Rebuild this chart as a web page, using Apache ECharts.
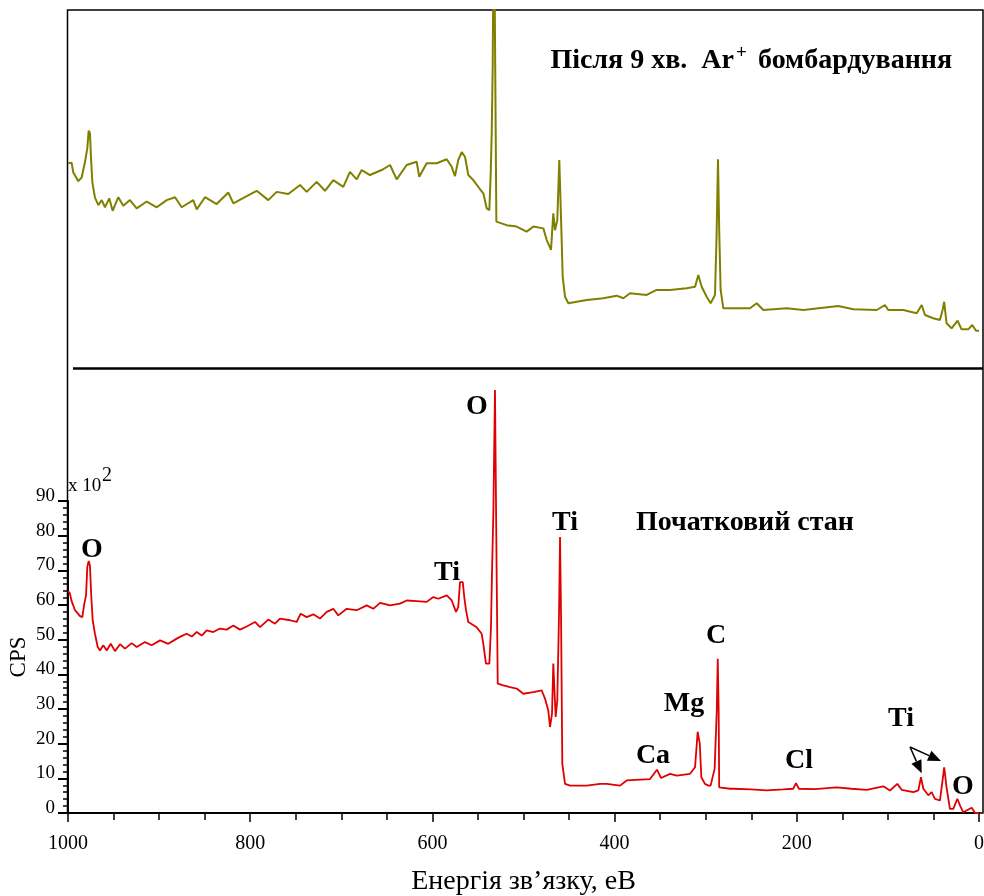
<!DOCTYPE html>
<html>
<head>
<meta charset="utf-8">
<script src="https://cdn.jsdelivr.net/npm/echarts@6/dist/echarts.min.js"></script>
<style>
    html, body { margin: 0; padding: 0; background: #fff; }
    #chart { width: 984px; height: 896px; }
</style>
</head>
<body>
<div id="chart"></div>
<script>
    // Початковий стан: [енергія зв'язку, еВ ; CPS x10^2]
    const initialSpectrum = [
        [1000, 64.0], [998, 63.4], [996, 61.1], [992.3, 58.5], [986.8, 56.8], [984.3, 56.5], [982.4, 59.9], [980.2, 62.8],
        [978.8, 71.0], [977.3, 72.7], [975.9, 71.4], [974.4, 62.3], [972.9, 55.6], [970.4, 51.7], [967.4, 47.9], [964.9, 46.9],
        [961.3, 48.4], [957.5, 46.9], [953.1, 48.8], [948.4, 46.7], [942.9, 48.7], [937.4, 47.4], [930.1, 49.0], [924.6, 47.9],
        [915.5, 49.3], [908.1, 48.4], [899, 49.8], [889.9, 48.8], [880.7, 50.3], [877.1, 50.8], [869.8, 51.7], [864.2, 50.9],
        [858.7, 52.2], [853.2, 51.2], [847.8, 52.7], [840.5, 52.2], [833.2, 53.2], [825.8, 52.9], [818.5, 54.1], [811.2, 52.9],
        [803.8, 53.8], [794.7, 55.1], [789.2, 53.6], [780.1, 55.8], [772.8, 54.6], [767.3, 56.1], [756.3, 55.6], [749, 55.1],
        [744.6, 57.5], [738, 56.5], [730.7, 57.3], [723.4, 56.1], [716, 58.0], [708.8, 58.9], [703.3, 57.0], [694.1, 58.9],
        [683.1, 58.5], [672.1, 59.9], [664.9, 58.9], [657.5, 60.6], [646.5, 59.9], [635.6, 60.4], [628.2, 61.3], [617.3, 61.1],
        [606.3, 60.9], [599, 62.3], [593.5, 61.8], [584.3, 62.8], [578.8, 61.3], [574.1, 58.0], [571.6, 59.4], [569.7, 66.6],
        [566.7, 66.6], [565, 62.3], [563.1, 58.5], [560.6, 55.1], [551.4, 53.6], [545.9, 51.7], [544.1, 48.8], [541.2, 43.1],
        [537.5, 43.1], [535.7, 53.6], [534.6, 69.1], [533.1, 86.4], [531.3, 122], [530.2, 122], [529.4, 67.1], [528.3, 37.3],
        [522.2, 36.8], [514.8, 36.3], [507.5, 35.9], [500.2, 34.4], [489.2, 34.9], [480.1, 35.4], [476.4, 33.0], [472.8, 29.6],
        [470.9, 24.8], [468.7, 28.6], [467.3, 43.1], [465.8, 43.5], [464.7, 27.7], [462.9, 32.5], [461, 57.5], [459.9, 79.6],
        [458.8, 57.5], [457.4, 14.2], [454.4, 8.4], [448.9, 7.9], [430.6, 7.9], [416, 8.4], [408.6, 8.4], [394.1, 7.9],
        [386.7, 9.4], [361.1, 9.8], [353.5, 12.5], [349, 10.1], [339.2, 11.3], [331.8, 10.8], [317.2, 11.3], [311.7, 13.2],
        [308.8, 23.4], [306.5, 20], [304.8, 10.3], [300.8, 8.4], [297, 7.9], [294.6, 7.9], [290.2, 12.8], [287.8, 30],
        [286.8, 44.5], [285.8, 30], [285.2, 7.4], [283.6, 7.0], [273.3, 7.0], [269.7, 7.0], [250, 6.8], [233.1, 6.5],
        [215, 6.8], [203.9, 7.0], [200.9, 8.6], [197.6, 7.0], [180, 6.9], [156.2, 7.4], [140, 7.0], [123.3, 6.7],
        [105.1, 7.7], [97.7, 6.5], [89.7, 8.4], [84.9, 6.7], [72.1, 6.0], [66.6, 6.5], [63.7, 10.3], [61.1, 7.0],
        [55.6, 5.1], [52, 6.0], [48.3, 4.1], [42.9, 3.6], [40, 9.4], [38.2, 13.2], [35.6, 7.4], [31.9, 1.2],
        [28.2, 1.2], [23.8, 4.1], [20.9, 2.2], [17.3, 0.2], [8, 1.5], [4.4, 0], [0, 0]
    ]

    // Після 9 хв. Ar+ бомбардування: [енергія зв'язку, еВ ; інтенсивність, відн. од.]
    const sputteredSpectrum = [
        [999.7, 57.2], [996, 57.3], [994.2, 54.6], [988.7, 52.2], [985, 53.2], [981.3, 57.6], [978.8, 61.4], [977.3, 66.3],
        [975.9, 65.6], [974.8, 59], [973.3, 52], [972.2, 50.2], [970.4, 47.6], [966.7, 45.5], [963, 46.9], [959.4, 44.9],
        [954.7, 47.4], [951, 43.9], [944.8, 47.7], [939.3, 45.3], [932, 46.9], [924.6, 44.6], [913.6, 46.5], [902.6, 44.9],
        [891.7, 46.9], [882.5, 47.7], [875.2, 44.9], [862.5, 46.9], [858.7, 44.3], [849.6, 47.7], [836.8, 45.8], [824, 49.0],
        [818.5, 46.0], [803.8, 48.0], [792.9, 49.5], [780.1, 46.9], [770.9, 49.2], [758.2, 48.6], [745.3, 51.1], [738, 49.2],
        [727, 52.0], [717.9, 49.5], [708.8, 52.5], [697.8, 50.6], [690.5, 54.8], [683.1, 52.7], [677.6, 55.3], [668.5, 53.9],
        [655.7, 55.3], [646.5, 56.7], [639.2, 52.7], [628.2, 56.7], [617.3, 57.6], [614.4, 53.4], [606.3, 57.2], [595.3, 57.2],
        [584.3, 58.3], [578.8, 56.2], [575.2, 53.6], [571.6, 58.1], [567.8, 60.3], [564.2, 59], [560.6, 53.9], [555.1, 52.5],
        [548.5, 50.2], [544.1, 48.8], [540.4, 44.6], [537.5, 44.1], [536, 54.4], [534.9, 65.6], [533.8, 84.2], [532.5, 135],
        [531.5, 135], [529.8, 40.9], [527.7, 40.4], [518.5, 39.9], [507.5, 39.5], [496.6, 38.1], [489.2, 39.5], [478.2, 39],
        [474.6, 35.8], [469.8, 33], [467.3, 43.2], [465.4, 38.5], [462.9, 41.3], [460.7, 58.1], [459.9, 58.3], [458.1, 35.8],
        [457, 25.5], [454.4, 19.9], [450.8, 18.1], [440, 18.6], [430.6, 19], [420, 19.3], [412.4, 19.5], [397.7, 20.2],
        [390.4, 19.5], [383.1, 20.9], [364.8, 20.4], [353.8, 21.8], [339.2, 21.8], [320.9, 22.3], [311.7, 22.7], [308.1, 26],
        [306.3, 26], [304.4, 22.7], [298.9, 19.9], [294.6, 18.1], [289.8, 20.4], [288, 37.6], [286.5, 58.3], [285.1, 37.6],
        [283.6, 21.8], [280.7, 16.7], [266, 16.7], [251.4, 16.7], [244, 18.1], [236.7, 16.2], [211.1, 16.7], [192.9, 16.2],
        [154.4, 17.3], [138, 16.4], [112.3, 16.2], [103.2, 17.6], [99.6, 16.2], [83.1, 16.2], [68.4, 15.3], [62.9, 17.6],
        [59.3, 14.8], [50.2, 13.9], [42.9, 13.4], [40, 16.2], [38.2, 18.5], [35.6, 12.5], [30.1, 11.1], [23.5, 13.2],
        [19.1, 10.8], [11.8, 10.8], [7.4, 12], [3.3, 10.4], [0, 10.4]
    ]

    const serif = '"Liberation Serif", "Times New Roman", serif'

    // підпис піку
    const note = function (text, x, y) {
        return {
            type: 'text', x: x, y: y, z: 50,
            style: {
                text: text, fill: '#000',
                font: 'bold 28px ' + serif,
                align: 'center', verticalAlign: 'middle'
            }
        }
    }
    const arrow = function (x1, y1, x2, y2) {
        const L = Math.hypot(x2 - x1, y2 - y1), ux = (x2 - x1) / L, uy = (y2 - y1) / L
        const h = 13, w = 5.5, bx = x2 - ux * h, by = y2 - uy * h
        return [
            { type: 'line', z: 50, shape: { x1: x1, y1: y1, x2: bx, y2: by }, style: { stroke: '#000', lineWidth: 1.5 } },
            { type: 'polygon', z: 50, shape: { points: [[x2, y2], [bx - uy * w, by + ux * w], [bx + uy * w, by - ux * w]] }, style: { fill: '#000' } }
        ]
    }

    const chart = echarts.init(document.getElementById('chart'))
    const option = {
        animation: false,
        grid: [
            { left: 68, right: 5, top: 501, bottom: 83, outerBoundsMode: 'none', containLabel: false },
            { left: 68, right: 5, top: 10, height: 358, outerBoundsMode: 'none', containLabel: false }
        ],
        xAxis: [{
            gridIndex: 0, type: 'value', inverse: true, min: 0, max: 1000, interval: 200,
            axisLine: { onZero: false, lineStyle: { color: '#000', width: 2 } },
            axisTick: { length: 9, lineStyle: { color: '#000', width: 1.5 } },
            minorTick: { show: true, splitNumber: 4, length: 7, lineStyle: { color: '#000', width: 1.5 } },
            splitLine: { show: false },
            axisLabel: { color: '#000', fontFamily: serif, fontSize: 20, margin: 21, formatter: v => String(v) },
            name: 'Енергія зв’язку, еВ', nameLocation: 'middle', nameGap: 55, nameMoveOverlap: false,
            nameTextStyle: { color: '#000', fontFamily: serif, fontSize: 28 }
        }, {
            gridIndex: 1, type: 'value', inverse: true, min: 0, max: 1000, show: false
        }],
        yAxis: [{
            gridIndex: 0, type: 'value', min: 0, max: 90, interval: 10,
            axisLine: { show: true, onZero: false, lineStyle: { color: '#000', width: 2 } },
            axisTick: { show: true, length: 10, lineStyle: { color: '#000', width: 2 } },
            minorTick: { show: true, splitNumber: 5, length: 5, lineStyle: { color: '#000', width: 1.5 } },
            splitLine: { show: false },
            axisLabel: { color: '#000', fontFamily: serif, fontSize: 19, margin: 13, verticalAlign: 'bottom', lineHeight: 10 },
            name: 'CPS', nameLocation: 'middle', nameGap: 38, nameRotate: 90, nameMoveOverlap: false,
            nameTextStyle: { color: '#000', fontFamily: serif, fontSize: 23 }
        }, {
            gridIndex: 1, type: 'value', min: 0, max: 100, show: false
        }],
        series: [{
            type: 'line', xAxisIndex: 0, yAxisIndex: 0,
            data: initialSpectrum,
            showSymbol: false, clip: false,
            lineStyle: { color: '#e00000', width: 1.8 }
        }, {
            type: 'line', xAxisIndex: 1, yAxisIndex: 1,
            data: sputteredSpectrum,
            showSymbol: false, clip: true,
            lineStyle: { color: '#808000', width: 2 }
        }],
        graphic: [
            { type: 'rect', shape: { x: 67.5, y: 10, width: 915.5, height: 803 }, style: { fill: 'none', stroke: '#000', lineWidth: 1.5 } },
            { type: 'line', shape: { x1: 73, y1: 368.5, x2: 983, y2: 368.5 }, style: { stroke: '#000', lineWidth: 2.5 } },
            { type: 'text', x: 68, y: 496, style: { text: 'x 10', fill: '#000', font: '19px ' + serif, align: 'left', verticalAlign: 'bottom' } },
            { type: 'text', x: 102, y: 486, style: { text: '2', fill: '#000', font: '20px ' + serif, align: 'left', verticalAlign: 'bottom' } },
            { type: 'text', x: 734, y: 61, style: { text: 'Після 9 хв.  Ar', fill: '#000', font: 'bold 28px ' + serif, align: 'right', verticalAlign: 'middle' } },
            { type: 'text', x: 741.5, y: 53, style: { text: '+', fill: '#000', font: 'bold 19px ' + serif, align: 'center', verticalAlign: 'middle' } },
            { type: 'text', x: 758, y: 61, style: { text: 'бомбардування', fill: '#000', font: 'bold 28px ' + serif, align: 'left', verticalAlign: 'middle' } },
            note('Початковий стан', 745, 523),
            note('O', 92, 550),
            note('O', 477, 407),
            note('Ti', 447, 573),
            note('Ti', 565, 523),
            note('C', 716, 636),
            note('Mg', 684, 704),
            note('Ca', 653, 756),
            note('Cl', 799, 761),
            note('Ti', 901, 719),
            note('O', 963, 787)
        ].concat(arrow(910, 747, 921.7, 773.3), arrow(910, 747, 941, 761))
    }
    chart.setOption(option)
</script>
</body>
</html>
